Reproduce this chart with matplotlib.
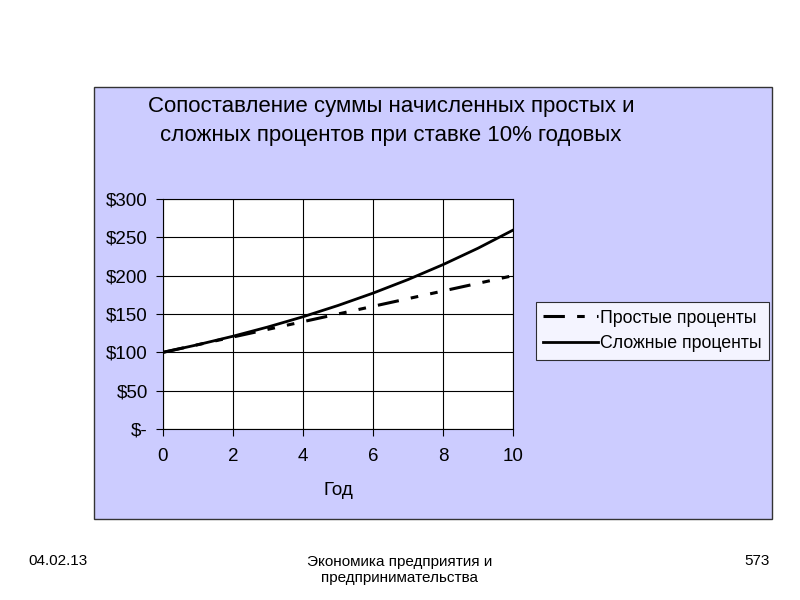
import matplotlib
matplotlib.use("Agg")
import matplotlib.pyplot as plt
from matplotlib.patches import Rectangle
from matplotlib.ticker import FuncFormatter

plt.rcParams['font.family'] = ['Liberation Sans', 'DejaVu Sans']

# data
years = [0, 1, 2, 3, 4, 5, 6, 7, 8, 9, 10]
simple_interest = [100, 110, 120, 130, 140, 150, 160, 170, 180, 190, 200]
compound_interest = [100, 110, 121, 133.1, 146.4, 161.1, 177.2, 194.9, 214.4, 235.8, 259.4]
series_labels = ["Простые проценты", "Сложные проценты"]
title_text = "Сопоставление суммы начисленных простых и\nсложных процентов при ставке 10% годовых"

W, H = 800, 600
fig = plt.figure(figsize=(8, 6), dpi=100)
fig.patch.set_facecolor("white")

# lavender chart area on a background axes
bg = fig.add_axes([0, 0, 1, 1], zorder=0)
bg.set_xlim(0, W)
bg.set_ylim(H, 0)
bg.axis("off")
bg.add_patch(Rectangle((94, 87), 772 - 94, 519 - 87, facecolor="#ccccff",
                       edgecolor="#333333", linewidth=1.0))

ax = fig.add_axes([163 / W, 1 - 429 / H, (513 - 163) / W, (429 - 199) / H], zorder=2)
ax.set_facecolor("white")
ax.plot(years, simple_interest, color="black", linewidth=2.2,
        dashes=(7, 4, 2.5, 4, 2.5, 4), label=series_labels[0])
ax.plot(years, compound_interest, color="black", linewidth=2.0,
        label=series_labels[1])

ax.set_xlim(0, 10)
ax.set_ylim(0, 300)
ax.set_xticks(range(0, 11, 2))
ax.set_yticks(range(0, 301, 50))
ax.yaxis.set_major_formatter(FuncFormatter(lambda v, p: "$-" if v == 0 else f"${int(v)}"))
ax.grid(True, color="black", linewidth=0.8)
ax.tick_params(labelsize=13.5, direction="out", length=5, width=0.8)
ax.tick_params(axis="y", pad=6)
ax.tick_params(axis="x", pad=9)
for s in ax.spines.values():
    s.set_color("black")
    s.set_linewidth(0.8)
ax.set_xlabel("Год", fontsize=13.5, labelpad=12)

fig.text(391 / W, 1 - 121 / H, title_text, ha="center", va="center",
         fontsize=16, linespacing=1.5, zorder=3)

leg = ax.legend(loc="center left", bbox_to_anchor=(536 / W, 1 - 331 / H),
                bbox_transform=fig.transFigure, fontsize=12.8, frameon=True,
                fancybox=False, handlelength=3.1, handletextpad=0.1,
                borderpad=0.4, labelspacing=0.5, borderaxespad=0)
leg.get_frame().set_edgecolor("black")
leg.get_frame().set_linewidth(0.8)

# slide footer
foot = ['Liberation Sans Narrow', 'Liberation Sans', 'DejaVu Sans']
fig.text(28 / W, 1 - 561 / H, "04.02.13", fontsize=11, family=foot, va="center")
fig.text(400 / W, 1 - 570 / H, "Экономика предприятия и\nпредпринимательства",
         fontsize=11, family=foot, ha="center", va="center", linespacing=1.2)
fig.text(770 / W, 1 - 561 / H, "573", fontsize=11, family=foot, ha="right", va="center")

fig.savefig("out.png", dpi=100, facecolor="white")
